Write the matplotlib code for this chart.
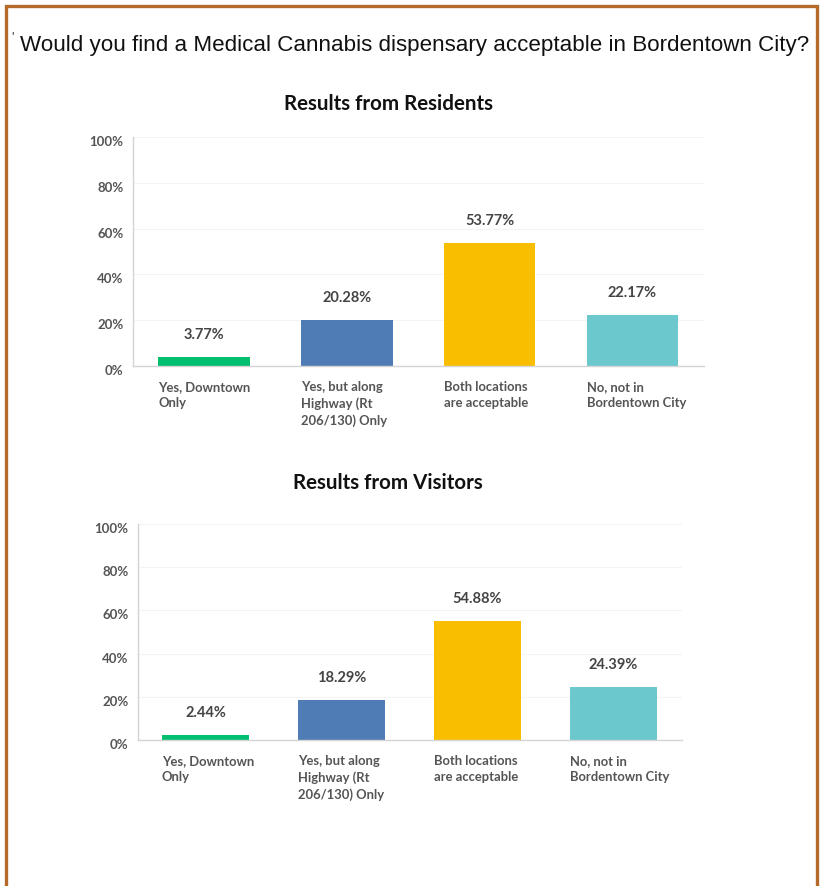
import matplotlib
matplotlib.use("Agg")
import matplotlib.pyplot as plt
from matplotlib.patches import Rectangle

# Survey answers and results
categories = [
    "Yes, Downtown\nOnly",
    "Yes, but along\nHighway (Rt\n206/130) Only",
    "Both locations\nare acceptable",
    "No, not in\nBordentown City",
]
residents = [3.77, 20.28, 53.77, 22.17]
visitors = [2.44, 18.29, 54.88, 24.39]
bar_colors = ["#00BF6F", "#507CB6", "#F9BE00", "#6BC8CD"]
y_ticks = [0, 20, 40, 60, 80, 100]
y_tick_labels = ["0%", "20%", "40%", "60%", "80%", "100%"]

W, H = 825, 886
DPI = 100
fig = plt.figure(figsize=(W / DPI, H / DPI), dpi=DPI)
fig.patch.set_facecolor("white")

LABEL_FONT = "Lato"
TEXT_GREY = "#555555"
VALUE_GREY = "#444444"


def px_axes(left, top_px, width, height):
    """Axes placed with pixel coordinates measured from the top-left corner."""
    return fig.add_axes([left / W, (H - top_px - height) / H, width / W, height / H])


def draw_panel(left, baseline, width, full_height, values):
    ax = px_axes(left, baseline - full_height, width, full_height)
    n = len(values)
    xs = list(range(n))
    bw = 0.64
    ax.set_xlim(-0.5, n - 0.5)
    ax.set_ylim(0, 100)
    for y in y_ticks[1:]:
        ax.axhline(y, color="#f4f4f4", lw=0.8, zorder=0)
    ax.bar(xs, values, width=bw, color=bar_colors, zorder=2)

    for side in ["top", "right"]:
        ax.spines[side].set_visible(False)
    ax.spines["left"].set_color("#d4d4d4")
    ax.spines["bottom"].set_color("#d4d4d4")
    ax.spines["left"].set_linewidth(1.0)
    ax.spines["bottom"].set_linewidth(1.0)
    ax.set_xticks([])
    ax.set_yticks([])

    # y tick labels, sitting slightly below their gridline
    for yv, lab in zip(y_ticks, y_tick_labels):
        ax.annotate(lab, xy=(0, yv), xycoords=("axes fraction", "data"),
                    xytext=(-9, -5), textcoords="offset pixels",
                    ha="right", va="center", fontsize=9.5, fontweight="bold",
                    color=TEXT_GREY, family=LABEL_FONT)

    # value labels above bars
    for x, v in zip(xs, values):
        ax.annotate(f"{v:.2f}%", xy=(x, v), xytext=(0, 22),
                    textcoords="offset pixels", ha="center", va="center",
                    fontsize=10.5, fontweight="bold", color=VALUE_GREY,
                    family=LABEL_FONT)

    # category labels under bars, left aligned to bar edge
    for x, lab in zip(xs, categories):
        ax.annotate(lab, xy=(x - bw / 2, 0), xytext=(0, -15),
                    textcoords="offset pixels", ha="left", va="top",
                    fontsize=9.4, fontweight="bold", color=TEXT_GREY,
                    family=LABEL_FONT, linespacing=1.42)
    return ax


draw_panel(132.5, 366, 571.5, 229, residents)
draw_panel(137.5, 740, 544, 216, visitors)

# headings
fig.text(415 / W, 1 - 45 / H,
         "Would you find a Medical Cannabis dispensary acceptable in Bordentown City?",
         ha="center", va="center", fontsize=16.1, family="Liberation Sans",
         color="#111111")
fig.text(12 / W, 1 - 37 / H, "'", ha="center", va="center", fontsize=9,
         family="Liberation Sans", color="#333333")
fig.text(388 / W, 1 - 104 / H, "Results from Residents", ha="center", va="center",
         fontsize=14.8, fontweight="bold", family="Lato", color="#111111")
fig.text(388 / W, 1 - 483 / H, "Results from Visitors", ha="center", va="center",
         fontsize=14.8, fontweight="bold", family="Lato", color="#111111")

# brown frame around the slide
frame = Rectangle((5.5 / W, -0.05), (817 - 5.5) / W, (H - 6.5) / H + 0.05,
                  transform=fig.transFigure, fill=False, edgecolor="#B5692B",
                  linewidth=2.4, zorder=10)
fig.patches.append(frame)

fig.savefig("out.png", dpi=DPI, facecolor="white")
